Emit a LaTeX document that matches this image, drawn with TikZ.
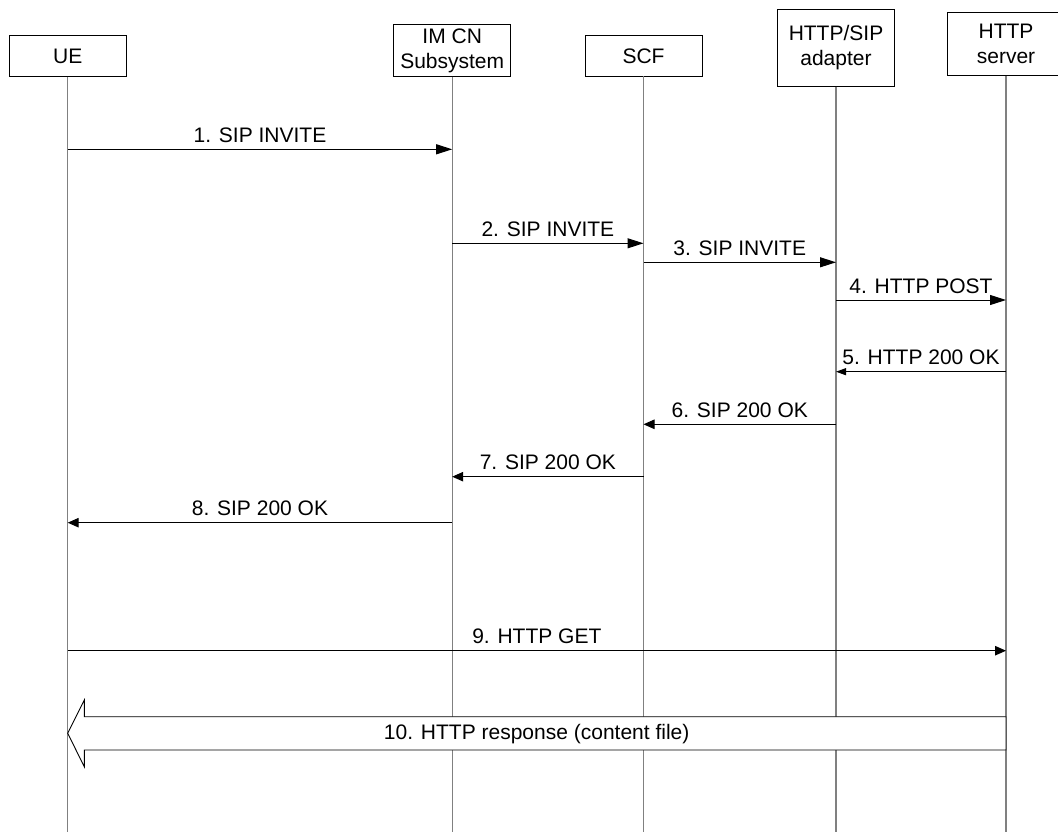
\documentclass[tikz,border=0pt]{standalone}
\usepackage{fontspec}
\setmainfont{Liberation Sans}
\usetikzlibrary{arrows.meta}
\begin{document}
\begin{tikzpicture}[x=1pt,y=-1pt,
  txt/.style={font=\fontsize{21}{25}\selectfont},
  ent/.style={txt, draw=black, line width=0.9pt, minimum width=117pt, align=center, inner sep=0pt, fill=white},
  life/.style={draw=black!50, line width=1.3pt},
  msgA/.style={draw=black, line width=1pt, -{Triangle[length=16pt,width=10pt]}},
  msgB/.style={draw=black, line width=1pt, -{Triangle[length=11pt,width=9.5pt]}},
  msgC/.style={draw=black, line width=1pt, -{Triangle[length=10pt,width=7pt]}},
  lab/.style={txt, anchor=base, inner sep=0pt, yshift=7pt},
  bigarrow/.style={draw=black, line width=0.9pt, fill=white, line join=miter}
]
\useasboundingbox (0,0) rectangle (1058,832);

% entities
\node[ent, minimum height=41pt]   (ue)  at (67.7,56)    {UE};
\node[ent, minimum height=51.7pt] (ims) at (452.2,50.5) {IM CN\\Subsystem};
\node[ent, minimum height=40.3pt] (scf) at (643.5,55.9) {SCF};
\node[ent, minimum height=76.8pt] (ad)  at (836,47.8)   {HTTP/SIP\\adapter};
\node[ent, minimum height=63.3pt] (hs)  at (1006,43.7)  {HTTP\\server};

% lifeline ends
\coordinate (bot) at (0,832);
\draw[life] (ue.south)  -- (ue |- bot);
\draw[life] (ims.south) -- (ims |- bot);
\draw[life] (scf.south) -- (scf |- bot);
\draw[life] (ad.south)  -- (ad |- bot);
\draw[life] (hs.south)  -- (hs |- bot);

% message rows
\coordinate (r1) at (0,149.3);
\coordinate (r2) at (0,243.3);
\coordinate (r3) at (0,262.3);
\coordinate (r4) at (0,300);
\coordinate (r5) at (0,371.7);
\coordinate (r6) at (0,424.3);
\coordinate (r7) at (0,476.7);
\coordinate (r8) at (0,522.7);
\coordinate (r9) at (0,650.7);

\draw[msgA] (ue |- r1)  -- (ims |- r1) node[lab, midway] {1. SIP INVITE};
\draw[msgA] (ims |- r2) -- (scf |- r2) node[lab, midway] {2. SIP INVITE};
\draw[msgA] (scf |- r3) -- (ad |- r3)  node[lab, midway] {3. SIP INVITE};
\draw[msgA] (ad |- r4)  -- (hs |- r4)  node[lab, midway] {4. HTTP POST};
\draw[msgC] (hs |- r5)  -- (ad |- r5)  node[lab, midway] {5. HTTP 200 OK};
\draw[msgB] (ad |- r6)  -- (scf |- r6) node[lab, midway] {6. SIP 200 OK};
\draw[msgB] (scf |- r7) -- (ims |- r7) node[lab, midway] {7. SIP 200 OK};
\draw[msgB] (ims |- r8) -- (ue |- r8)  node[lab, midway] {8. SIP 200 OK};
\draw[msgB] (ue |- r9)  -- (hs |- r9)  node[lab, midway] {9. HTTP GET};

% 10. big hollow arrow
\coordinate (t10) at (0,716.7);
\coordinate (m10) at (0,733.3);
\coordinate (b10) at (0,750);
\draw[bigarrow] (hs |- t10) -- (84.3,716.7) -- (84.3,700) -- (ue |- m10)
  -- (84.3,766.7) -- (84.3,750) -- (hs |- b10) -- cycle;
\node[txt, anchor=base, inner sep=0pt] (l10) at (536.7,739.3) {10. HTTP response (content file)};
\end{tikzpicture}
\end{document}
